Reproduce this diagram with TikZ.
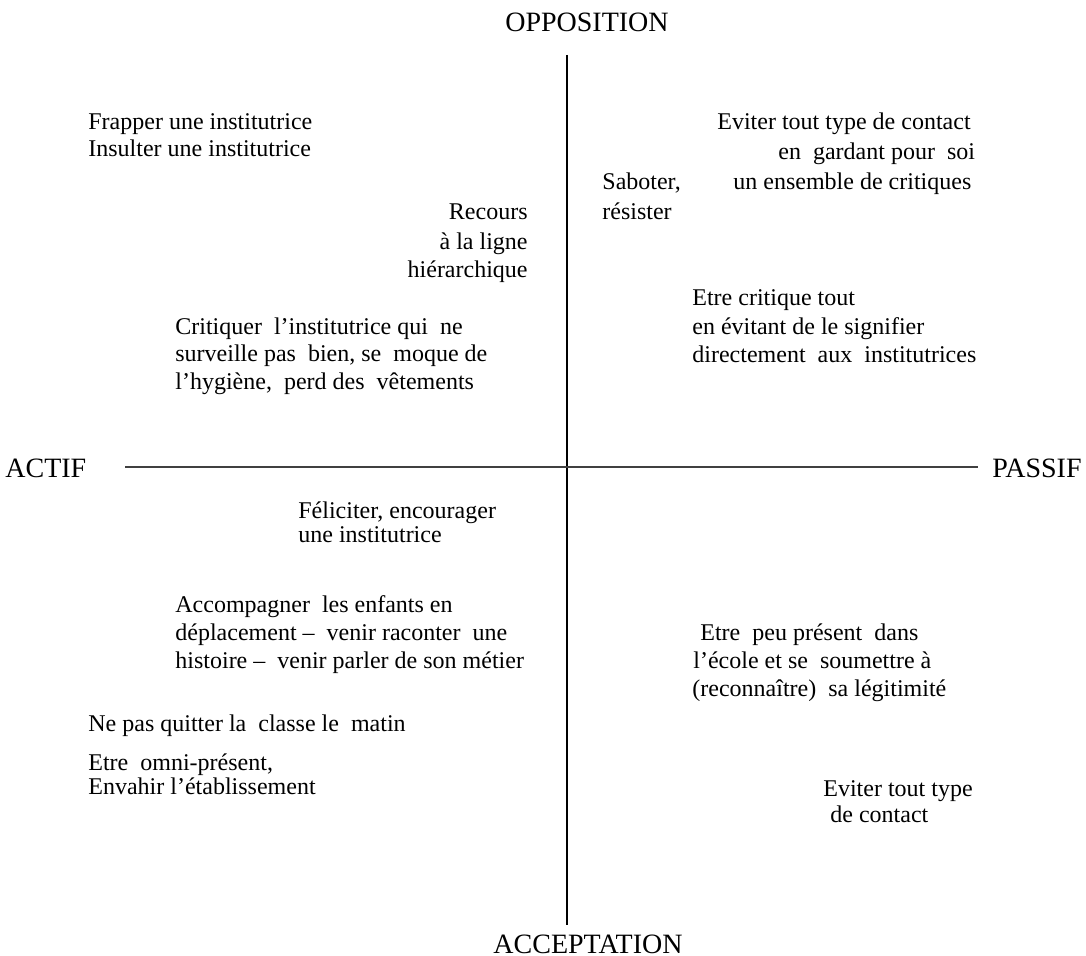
\documentclass[tikz,border=0pt]{standalone}
\usepackage{fontspec}
\setmainfont{Liberation Serif}
\begin{document}
\begin{tikzpicture}[x=0.5pt,y=-0.5pt,
  txt/.style={anchor=base west, inner sep=0pt, font=\fontsize{12}{14}\selectfont},
  txtr/.style={txt, anchor=base east},
  axl/.style={inner sep=0pt, font=\fontsize{14}{16}\selectfont},
  vaxis/.style={line width=1pt, black},
  haxis/.style={line width=1.2pt, black!75}]
\useasboundingbox (0,0) rectangle (1086,956);

% axes
\coordinate (top) at (567,55);
\coordinate (bottom) at (567,925);
\coordinate (left) at (125,467);
\coordinate (right) at (978,467);
\draw[vaxis] (top) -- (bottom);
\draw[haxis] (left) -- (right);

\node[axl, anchor=base] (opp) at (587,32) {OPPOSITION};
\node[axl, anchor=base] (acc) at (588,953) {ACCEPTATION};
\node[axl, anchor=base west] (actif) at (5,478) {ACTIF};
\node[axl, anchor=base east] (passif) at (1082,478) {PASSIF};

% upper left
\node[txt] (f1) at (88,130) {Frapper une institutrice};
\node[txt] (f2) at (88,157) {Insulter une institutrice};

\node[txtr] (r1) at (528,220) {Recours};
\node[txtr] (r2) at (528,250) {à la ligne};
\node[txtr] (r3) at (528,278) {hiérarchique};

\node[txt] (c1) at (175,335) {Critiquer~ l’institutrice qui~ ne};
\node[txt] (c2) at (175,362) {surveille pas~ bien, se~ moque de};
\node[txt] (c3) at (175,390) {l’hygiène,~ perd des~ vêtements};

% upper right
\node[txt] (e1) at (717,130) {Eviter tout type de contact};
\node[txt] (e2) at (778,160) {en~ gardant pour~ soi};
\node[txt] (e3) at (733,190) {un ensemble de critiques};

\node[txt] (s1) at (602,190) {Saboter,};
\node[txt] (s2) at (602,220) {résister};

\node[txt] (k1) at (692,306) {Etre critique tout};
\node[txt] (k2) at (692,335) {en évitant de le signifier};
\node[txt] (k3) at (692,363) {directement~ aux~ institutrices};

% lower left
\node[txt] (g1) at (298,518) {Féliciter, encourager};
\node[txt] (g2) at (298,542) {une institutrice};

\node[txt] (a1) at (175,612) {Accompagner~ les enfants en};
\node[txt] (a2) at (175,640) {déplacement –~ venir raconter~ une};
\node[txt] (a3) at (175,668) {histoire –~ venir parler de son métier};

\node[txt] (n1) at (88,731) {Ne pas quitter la~ classe le~ matin};

\node[txt] (o1) at (88,770) {Etre~ omni-présent,};
\node[txt] (o2) at (88,794) {Envahir l’établissement};

% lower right
\node[txt] (p1) at (700,640) {Etre~ peu présent~ dans};
\node[txt] (p2) at (693,668) {l’école et se~ soumettre à};
\node[txt] (p3) at (692,696) {(reconnaître)~ sa légitimité};

\node[txt] (v1) at (823,796) {Eviter tout type};
\node[txt] (v2) at (830,822) {de contact};
\end{tikzpicture}
\end{document}
